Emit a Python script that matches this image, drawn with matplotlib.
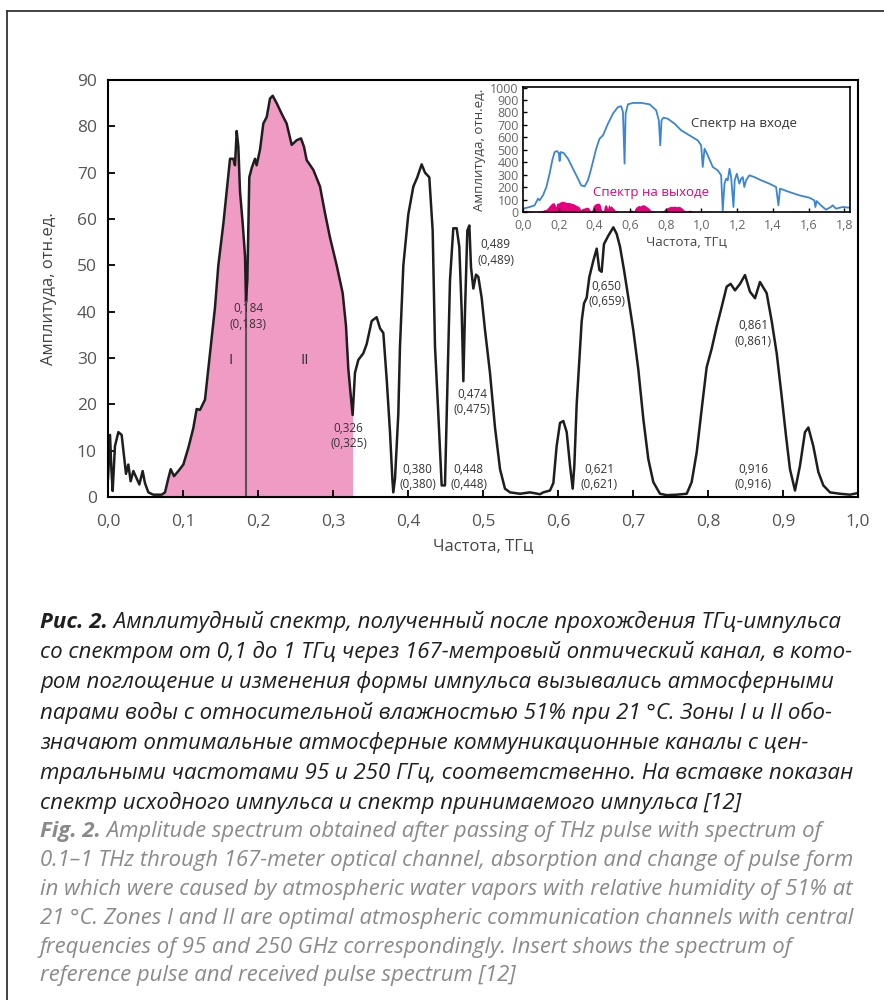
import numpy as np
import matplotlib
matplotlib.use("Agg")
import matplotlib.pyplot as plt
from matplotlib.lines import Line2D
from matplotlib.ticker import FuncFormatter, MultipleLocator

# received spectrum after 167 m path, THz / arb. units
freq = [0.000, 0.0027, 0.0045, 0.0062, 0.0093, 0.0138, 0.0182, 0.0213, 0.024, 0.0271,
        0.0302, 0.0338, 0.0382, 0.0418, 0.0462, 0.0493, 0.0538, 0.0604, 0.0716, 0.076,
        0.0804, 0.0836, 0.088, 0.0938, 0.1004, 0.1071, 0.1138, 0.1182, 0.1227, 0.1293,
        0.1324, 0.1382, 0.1427, 0.1471, 0.1538, 0.1582, 0.1627, 0.1671, 0.1693, 0.1716,
        0.1738, 0.176, 0.1796, 0.1827, 0.184, 0.1858, 0.1884, 0.1916, 0.196, 0.1982,
        0.2027, 0.2071, 0.2116, 0.216, 0.2196, 0.2249, 0.2316, 0.2382, 0.2449, 0.2516,
        0.2573, 0.2613, 0.2649, 0.2738, 0.2827, 0.2893, 0.296, 0.3049, 0.3129, 0.3173,
        0.3204, 0.3236, 0.3262, 0.3293, 0.3338, 0.3404, 0.3449, 0.3516, 0.3582, 0.3627,
        0.3671, 0.3716, 0.376, 0.3791, 0.3804, 0.3827, 0.3871, 0.3893, 0.3938, 0.4004,
        0.4071, 0.4124, 0.4182, 0.4227, 0.4284, 0.4329, 0.436, 0.4404, 0.4449, 0.4493,
        0.4516, 0.456, 0.4604, 0.4649, 0.4684, 0.4716, 0.4738, 0.476, 0.4791, 0.4818,
        0.484, 0.4871, 0.4907, 0.4938, 0.4982, 0.5027, 0.5093, 0.516, 0.5227, 0.5293,
        0.536, 0.5493, 0.5627, 0.576, 0.5804, 0.5893, 0.5938, 0.5982, 0.6027, 0.6071,
        0.6116, 0.616, 0.6196, 0.6218, 0.6249, 0.6284, 0.6316, 0.6347, 0.6382, 0.6418,
        0.6471, 0.6516, 0.6551, 0.6582, 0.6613, 0.6671, 0.6738, 0.6782, 0.6827, 0.688,
        0.6938, 0.7004, 0.7071, 0.7138, 0.7204, 0.7271, 0.736, 0.7449, 0.7582, 0.7716,
        0.7782, 0.7849, 0.7916, 0.7982, 0.8049, 0.8116, 0.8182, 0.8249, 0.8302, 0.836,
        0.8427, 0.8493, 0.856, 0.8627, 0.8693, 0.8782, 0.8849, 0.8916, 0.8982, 0.904,
        0.9093, 0.916, 0.9227, 0.9293, 0.9338, 0.9404, 0.9471, 0.9538, 0.9627, 0.976,
        0.9893, 0.9982]
amp = [4, 13.4, 6, 1.3, 11, 14, 13.4, 9, 5, 7,
       3.4, 5.6, 4, 2.7, 5.6, 3, 1, 0.5, 0.5, 1,
       4, 6, 4.5, 5.6, 7, 10.6, 14.9, 19, 18.8, 21,
       25.6, 34, 41, 50, 59, 66, 73, 73, 71.6, 79,
       75.6, 66, 59, 52, 42, 47, 69, 71, 73, 71.6,
       75, 80.6, 82, 86, 86.6, 85, 82.7, 80.6, 76, 77,
       77.4, 75.6, 72.7, 70.6, 67, 61.3, 56, 50, 44, 37,
       27.7, 22, 17.7, 26.8, 29.6, 31, 33, 38, 38.8, 36.4,
       35.4, 25.4, 14, 4, 1, 4, 18, 32.5, 50, 61,
       67, 69, 71.8, 70, 69, 57.5, 32.5, 18, 2.5, 2.5,
       18, 46.8, 58, 58, 54, 40, 25, 40, 57.5, 58.6,
       49.6, 45, 48, 47.5, 43, 36, 26.8, 15, 6, 1.8,
       1, 0.7, 1, 0.6, 1, 1.4, 3, 11, 16, 16.4,
       14, 6.8, 1.8, 6.8, 20, 29.6, 38, 41.8, 43, 47.5,
       51, 53.6, 49, 48.6, 54.6, 56.4, 58.2, 56.8, 54, 49,
       43, 36, 27.5, 16.8, 8.2, 3.2, 0.7, 0.4, 0.5, 0.7,
       3.2, 9.6, 19, 28, 32, 36.8, 41, 45.4, 46, 44.6,
       46, 47.9, 44.3, 42.9, 46.4, 44, 38, 31, 21.8, 13.2,
       6, 1.4, 6.8, 14, 15, 11, 5.4, 2.5, 1, 0.7,
       0.5, 0.8]

# zones I and II
zone_start, zone_split, zone_end = 0.07, 0.184, 0.327

# absorption line labels: (x, y, text)
line_labels = [
    (0.187, 39, "0,184\n(0,183)"),
    (0.321, 13.2, "0,326\n(0,325)"),
    (0.413, 4.3, "0,380\n(0,380)"),
    (0.481, 4.3, "0,448\n(0,448)"),
    (0.486, 20.5, "0,474\n(0,475)"),
    (0.517, 52.8, "0,489\n(0,489)"),
    (0.665, 43.8, "0,650\n(0,659)"),
    (0.655, 4.3, "0,621\n(0,621)"),
    (0.860, 35.3, "0,861\n(0,861)"),
    (0.860, 4.3, "0,916\n(0,916)"),
]

# inset: reference (input) spectrum
in_freq = [0, 0.037, 0.065, 0.084, 0.093, 0.112, 0.131, 0.149, 0.164, 0.177,
           0.19, 0.201, 0.205, 0.211, 0.228, 0.252, 0.28, 0.308, 0.326, 0.345,
           0.364, 0.382, 0.41, 0.429, 0.448, 0.476, 0.504, 0.532, 0.55, 0.56,
           0.569, 0.575, 0.588, 0.616, 0.662, 0.709, 0.746, 0.761, 0.769, 0.776,
           0.787, 0.811, 0.849, 0.886, 0.933, 0.979, 0.998, 1.007, 1.017, 1.035,
           1.063, 1.091, 1.11, 1.119, 1.129, 1.138, 1.147, 1.157, 1.166, 1.179,
           1.186, 1.198, 1.212, 1.222, 1.231, 1.24, 1.25, 1.268, 1.296, 1.334,
           1.38, 1.418, 1.431, 1.44, 1.492, 1.548, 1.604, 1.632, 1.638, 1.645,
           1.669, 1.697, 1.725, 1.735, 1.753, 1.791, 1.828]
in_amp = [27, 40, 54, 107, 94, 134, 201, 308, 415, 482,
          490, 474, 410, 482, 474, 429, 348, 268, 214, 206,
          255, 348, 509, 590, 616, 710, 791, 844, 850, 804,
          389, 791, 866, 877, 877, 866, 818, 737, 536, 737,
          759, 750, 710, 657, 616, 576, 536, 362, 509, 456,
          362, 335, 295, 13, 228, 268, 255, 348, 281, 40,
          255, 308, 228, 268, 281, 201, 255, 295, 281, 255,
          228, 201, 54, 188, 161, 134, 115, 94, 40, 88,
          54, 19, 40, 54, 27, 40, 35]

ru_lines = [
    ("Рис. 2.", " Амплитудный спектр, полученный после прохождения ТГц-импульса"),
    ("", "со спектром от 0,1 до 1 ТГц через 167-метровый оптический канал, в кото-"),
    ("", "ром поглощение и изменения формы импульса вызывались атмосферными"),
    ("", "парами воды с относительной влажностью 51% при 21 °C. Зоны I и II обо-"),
    ("", "значают оптимальные атмосферные коммуникационные каналы с цен-"),
    ("", "тральными частотами 95 и 250 ГГц, соответственно. На вставке показан"),
    ("", "спектр исходного импульса и спектр принимаемого импульса [12]"),
]
en_lines = [
    ("Fig. 2.", " Amplitude spectrum obtained after passing of THz pulse with spectrum of"),
    ("", "0.1–1 THz through 167-meter optical channel, absorption and change of pulse form"),
    ("", "in which were caused by atmospheric water vapors with relative humidity of 51% at"),
    ("", "21 °C. Zones I and II are optimal atmospheric communication channels with central"),
    ("", "frequencies of 95 and 250 GHz correspondingly. Insert shows the spectrum of"),
    ("", "reference pulse and received pulse spectrum [12]"),
]

freq = np.array(freq)
amp = np.array(amp)

W, H = 884, 1000
fig = plt.figure(figsize=(W / 100, H / 100), dpi=100)
tick_font = ["Open Sans", "DejaVu Sans"]
narrow = ["Liberation Sans Narrow", "Open Sans", "DejaVu Sans"]
comma = FuncFormatter(lambda v, p: f"{v:.1f}".replace(".", ","))

# page frame (open on right and bottom)
fig.add_artist(Line2D([7 / W, 7 / W], [0, 1 - 11 / H], color="#333333", lw=1.3))
fig.add_artist(Line2D([7 / W, 1], [1 - 11 / H, 1 - 11 / H], color="#333333", lw=1.3))

# main plot
ax = fig.add_axes([108 / W, 1 - 497 / H, 750 / W, 417 / H])
zone = (freq >= zone_start) & (freq <= zone_end)
ax.fill_between(freq, 0, amp, where=zone, color="#ef9bc4", lw=0)
ax.plot(freq, amp, color="#1e1e1e", lw=1.8)
ax.plot([zone_split, zone_split], [0, np.interp(zone_split, freq, amp)], color="#555555", lw=1.5)
ax.text(0.163, 29.5, "I", ha="center", va="center", fontsize=11, color="#333333", family=narrow)
ax.text(0.262, 29.5, "II", ha="center", va="center", fontsize=11, color="#333333", family=narrow)
for x, y, s in line_labels:
    ax.text(x, y, s, ha="center", va="center", fontsize=8.5, color="#333333",
            family=narrow, linespacing=1.25)

ax.set_xlim(0, 1.0)
ax.set_ylim(0, 90)
ax.xaxis.set_major_locator(MultipleLocator(0.1))
ax.yaxis.set_major_locator(MultipleLocator(10))
ax.xaxis.set_major_formatter(comma)
ax.tick_params(direction="in", length=5, width=1.3, labelsize=12.5, labelcolor="#555555", pad=8)
ax.tick_params(axis="x", pad=12)
for lab in ax.get_xticklabels() + ax.get_yticklabels():
    lab.set_family(tick_font)
for sp in ax.spines.values():
    sp.set_linewidth(1.5)
ax.set_xlabel("Частота, ТГц", fontsize=12, color="#444444", family=tick_font, labelpad=6)
ax.set_ylabel("Амплитуда, отн.ед.", fontsize=12, color="#444444", family=tick_font, labelpad=14)

# inset
ins = fig.add_axes([523 / W, 1 - 212 / H, 327 / W, 125 / H])
ins.fill_between(freq, 0, amp, color="#e5007d", lw=0)
ins.plot(in_freq, in_amp, color="#3a86d4", lw=1.3)
ins.text(0.943, 713, "Спектр на входе", fontsize=9.5, color="#333333", va="center", family=tick_font)
ins.text(0.39, 158, "Спектр на выходе", fontsize=9.5, color="#e5007d", va="center", family=tick_font)
ins.set_xlim(0, 1.832)
ins.set_ylim(0, 1005)
ins.xaxis.set_major_locator(MultipleLocator(0.2))
ins.yaxis.set_major_locator(MultipleLocator(100))
ins.xaxis.set_major_formatter(comma)
ins.tick_params(direction="in", length=3, width=1, labelsize=9, labelcolor="#666666", pad=3)
ins.tick_params(axis="x", pad=5)
for lab in ins.get_xticklabels() + ins.get_yticklabels():
    lab.set_family(tick_font)
for sp in ins.spines.values():
    sp.set_linewidth(1.2)
ins.set_xlabel("Частота, ТГц", fontsize=9.5, color="#444444", family=tick_font, labelpad=3)
ins.set_ylabel("Амплитуда, отн.ед.", fontsize=9.5, color="#444444", family=tick_font, labelpad=3)

# caption
fig.canvas.draw()
r = fig.canvas.get_renderer()


def fit_size(text, width_px, **kw):
    t = fig.text(0, 0, text, fontsize=10, **kw)
    w = t.get_window_extent(r).width
    t.remove()
    return 10 * width_px / w


def caption(lines, y0, step, color, size):
    for i, (bold, rest) in enumerate(lines):
        y = 1 - (y0 + i * step) / H
        x = 40 / W
        if bold:
            tb = fig.text(x, y, bold, fontsize=size, color=color, style="italic",
                          weight="bold", family=narrow, va="center")
            x = tb.get_window_extent(r).x1 / W
        fig.text(x, y, rest, fontsize=size, color=color, style="italic",
                 family=narrow, va="center")


ru_size = fit_size(ru_lines[5][1], 815, style="italic", family=narrow)
en_size = fit_size(en_lines[2][1], 812, style="italic", family=narrow)
caption(ru_lines, 622, 30.2, "#1f1f1f", ru_size)
caption(en_lines, 832, 28.8, "#8a8a8a", en_size)

fig.savefig("out.png", dpi=100, facecolor="white")
